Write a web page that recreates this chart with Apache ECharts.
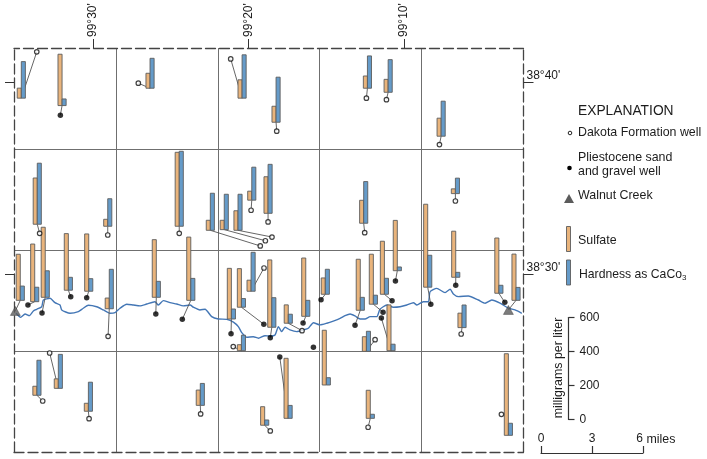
<!DOCTYPE html>
<html>
<head>
<meta charset="utf-8">
<title>Sulfate and hardness in wells along Walnut Creek</title>
<style>
html, body { margin: 0; padding: 0; background: #fff; }
#main { width: 707px; height: 459px; }
</style>
<script src="https://cdn.jsdelivr.net/npm/echarts@6/dist/echarts.min.js"></script>
</head>
<body>
<div id="main"></div>
<script>
"use strict";
// map position in miles from the south-west corner, values in mg/L
var wellType = ['D','P','D','D','D','D','D','D','D','D','T','P','P','P','P','D','P','D','D','D','D','D','D','P','P','P','D','P','D','P','P','D','P','P','D','D','P','P','P','P','P','P','P','T','D','D','P','D','D','D','D','D','D','D'];
var barEast = [0.43,2.83,8.01,13.43,15.43,20.81,22.03,25.15,1.37,5.52,0.37,1.22,1.84,3.20,4.40,5.61,8.38,9.73,11.56,12.38,13.19,14.00,14.96,10.41,12.80,13.39,13.96,15.18,16.15,17.18,18.33,13.39,18.39,16.14,20.59,25.99,20.39,21.16,21.81,22.57,24.36,26.01,28.55,29.56,26.38,20.75,22.20,1.35,2.61,4.38,10.97,14.76,20.98,29.11];
var barNorth = [21.02,20.58,21.61,21.02,19.59,21.61,21.37,18.76,13.53,13.41,9.01,8.93,9.19,9.61,9.55,8.51,9.19,13.41,13.17,13.21,13.17,14.96,14.18,9.01,7.90,8.60,9.55,7.41,7.65,8.06,9.37,6.02,3.98,2.00,13.59,15.35,8.42,8.78,9.37,10.77,9.79,10.38,9.43,9.01,7.39,5.98,6.02,3.37,3.78,2.42,2.77,1.59,2.00,0.99];
var wellEast = [1.34,2.73,7.32,12.76,15.47,20.75,21.93,25.05,1.51,5.52,0.08,0.82,1.65,3.34,4.28,5.54,8.35,9.73,14.50,14.80,15.19,13.96,14.96,9.91,12.78,14.71,14.72,15.09,16.96,17.02,18.08,12.91,17.63,15.65,20.65,25.99,20.08,21.73,22.26,22.46,24.54,26.01,28.90,29.11,26.33,21.26,21.63,1.69,2.10,4.42,10.99,15.09,20.85,28.70];
var wellNorth = [23.77,20.01,21.91,23.35,19.06,21.02,20.93,18.26,12.99,12.89,8.38,8.73,8.26,9.23,9.17,6.87,8.20,12.99,12.24,12.55,12.77,14.36,13.67,7.88,7.03,7.59,10.93,6.79,7.21,7.66,9.05,6.26,6.22,5.64,13.03,14.91,7.53,8.30,8.99,10.16,8.78,9.90,8.89,8.44,7.01,6.67,7.96,3.03,5.88,1.98,2.26,1.25,1.47,2.24];
var sulfate = [59,302,88,108,94,72,76,106,272,41,271,339,412,333,337,63,339,435,59,55,115,53,215,372,298,227,65,396,108,343,96,35,322,353,135,28,300,294,312,296,488,271,325,272,85,86,269,53,56,47,90,109,165,480];
var hardness = [215,39,176,255,265,190,192,206,359,162,84,85,156,76,74,232,94,441,218,208,212,194,288,129,59,51,229,174,53,94,147,91,43,76,245,91,76,53,94,22,188,29,47,76,133,118,38,206,200,171,129,31,24,71];
// wells shown beside their bar, without a leader line
var noLeader = [32, 53];

var riverEast = [0.12,0.39,0.65,0.90,1.14,1.34,1.63,1.73,2.12,2.41,2.71,2.81,3.30,3.79,4.08,4.38,4.87,5.26,5.65,5.95,6.24,6.64,7.03,7.42,7.81,8.30,8.50,8.79,9.19,9.58,9.97,10.37,10.56,10.95,11.25,11.64,12.03,12.53,12.92,13.21,13.41,13.70,14.09,14.39,14.78,15.08,15.37,15.57,15.76,15.96,16.25,16.65,17.04,17.33,17.63,18.02,18.42,18.80,19.20,19.49,19.79,20.08,20.38,20.67,20.97,21.36,21.55,21.95,22.34,22.73,23.13,23.52,23.72,24.10,24.40,24.50,24.89,25.38,25.68,25.87,26.17,26.75,27.34,27.74,28.13,28.62,29.11,29.50,29.90];
var riverNorth = [8.24,8.00,8.20,8.10,8.38,8.48,8.63,9.03,9.13,8.87,8.73,8.44,8.24,8.34,8.54,8.72,8.63,8.44,8.24,8.28,8.54,8.78,8.73,8.68,8.79,8.93,8.73,8.99,8.87,8.79,8.68,8.73,8.60,8.44,8.48,8.04,7.90,7.88,7.72,7.45,7.09,6.82,6.85,6.76,6.91,6.89,6.95,7.45,7.15,7.41,7.25,7.15,7.25,7.35,7.68,7.55,7.65,7.78,7.94,8.10,8.20,8.08,7.90,7.90,8.04,8.04,8.48,8.73,8.60,8.63,8.73,8.87,8.73,8.93,8.93,9.52,9.72,9.47,9.67,9.39,9.23,9.27,9.03,8.84,9.03,8.84,8.54,8.44,8.24];

var lonTicks = [30, 20, 10];   // minutes past 99 degrees
var latTicks = [30, 40];       // minutes past 38 degrees
var concTicks = [0, 200, 400, 600];

var mgPerMile = 99;  // bar height scale on the map
var barWidth = 0.24; // miles

var TEXT = '#1c1c1c';
var FONT = '"Liberation Sans", Arial, sans-serif';
var FRAME = { show: true, onZero: false, lineStyle: { color: '#444', width: 1.3, type: [10, 4] } };
var HIDDEN = { axisLine: { show: false }, axisTick: { show: false }, axisLabel: { show: false }, splitLine: { show: false } };

function rows(type) {
    var out = [];
    for (var i = 0; i < wellType.length; i++) {
        if (wellType[i] == type) out.push([wellEast[i], wellNorth[i]]);
    }
    return out;
}

function zip(a, b) {
    return a.map(function (v, i) { return [v, b[i]]; });
}

function barSeries(name, values, side, color) {
    return {
        name: name,
        type: 'custom',
        xAxisIndex: 0,
        yAxisIndex: 0,
        clip: false,
        z: 4,
        data: values.map(function (v, i) { return [barEast[i], barNorth[i], v]; }),
        renderItem: function (params, api) {
            var e = api.value(0), n = api.value(1);
            var a = api.coord([side < 0 ? e - barWidth : e, n + api.value(2) / mgPerMile]);
            var b = api.coord([side < 0 ? e : e + barWidth, n]);
            return {
                type: 'rect',
                shape: { x: a[0], y: a[1], width: b[0] - a[0], height: b[1] - a[1] },
                style: { fill: color, stroke: '#5c5c5c', lineWidth: 0.9 }
            };
        }
    };
}

function legendText(x, y, text) {
    return { type: 'text', x: x, y: y, style: { text: text, fill: TEXT, font: '12.4px ' + FONT, verticalAlign: 'middle', lineHeight: 14 } };
}

var chart = echarts.init(document.getElementById('main'), null, { renderer: 'canvas' });

chart.setOption({
    animation: false,
    backgroundColor: '#fff',
    textStyle: { fontFamily: FONT, color: TEXT },
    grid: [
        { left: 14, top: 48, width: 509.5, height: 404 },
        { left: 567.5, top: 317.5, width: 1, height: 102 },
        { left: 541, top: 453, width: 102, height: 1 }
    ],
    xAxis: [
        {
            type: 'value', gridIndex: 0, position: 'bottom', min: 0, max: 30, interval: 6,
            axisLine: FRAME, axisTick: { show: false }, axisLabel: { show: false },
            splitLine: { show: true, showMinLine: false, showMaxLine: false, lineStyle: { color: '#6f6f6f', width: 1 } }
        },
        {
            type: 'value', gridIndex: 0, position: 'top', inverse: true, min: 2.32, max: 35.08,
            axisLine: FRAME,
            axisTick: { show: true, customValues: lonTicks, length: 9, lineStyle: { color: '#333' } },
            axisLabel: {
                show: true, customValues: lonTicks, rotate: -90, margin: 11, fontSize: 12, color: TEXT,
                formatter: function (v) { return "99\u00b0" + v + "'"; }
            },
            splitLine: { show: false }
        },
        Object.assign({ type: 'value', gridIndex: 1, min: 0, max: 1 }, HIDDEN),
        {
            type: 'value', gridIndex: 2, position: 'top', min: 0, max: 6, interval: 3,
            axisLine: { onZero: false, lineStyle: { color: '#333', width: 1.2 } },
            axisTick: { length: 7, lineStyle: { color: '#333', width: 1.2 } },
            axisLabel: {
                margin: 8, fontSize: 12, color: TEXT,
                formatter: function (v) { return v == 6 ? '{end|6}' : '' + v; },
                rich: { end: { fontSize: 12, color: TEXT, padding: [0, 7, 0, 0] } }
            },
            splitLine: { show: false }
        }
    ],
    yAxis: [
        {
            type: 'value', gridIndex: 0, min: 0, max: 24, interval: 6,
            axisLine: { show: false }, axisTick: { show: false }, axisLabel: { show: false },
            splitLine: { show: true, showMinLine: false, showMaxLine: false, lineStyle: { color: '#6f6f6f', width: 1 } }
        },
        {
            type: 'value', gridIndex: 0, position: 'right', min: 20.73, max: 41.77,
            axisLine: FRAME,
            axisTick: { show: true, customValues: latTicks, length: 10, lineStyle: { color: '#333' } },
            axisLabel: {
                show: true, customValues: latTicks, margin: 3, fontSize: 12, color: TEXT, verticalAlign: 'bottom',
                formatter: function (v) { return "38\u00b0" + v + "'"; }
            },
            splitLine: { show: false }
        },
        {
            type: 'value', gridIndex: 0, position: 'left', min: 20.73, max: 41.77,
            axisLine: FRAME,
            axisTick: { show: true, customValues: latTicks, length: 9, lineStyle: { color: '#333' } },
            axisLabel: { show: false },
            splitLine: { show: false }
        },
        {
            type: 'value', gridIndex: 1, position: 'right', min: 0, max: 600,
            axisLine: { onZero: false, lineStyle: { color: '#333', width: 1.2 } },
            axisTick: { show: true, customValues: concTicks, length: 6, lineStyle: { color: '#333', width: 1.2 } },
            axisLabel: { show: true, customValues: concTicks, margin: 11, fontSize: 12, color: TEXT },
            splitLine: { show: false }
        },
        Object.assign({ type: 'value', gridIndex: 2, min: 0, max: 1 }, HIDDEN)
    ],
    series: [
        {
            name: 'Walnut Creek river', type: 'line', xAxisIndex: 0, yAxisIndex: 0, z: 2,
            showSymbol: false, smooth: 0.2, data: zip(riverEast, riverNorth),
            lineStyle: { color: '#4376b5', width: 1.4 }
        },
        {
            name: 'Leaders', type: 'custom', xAxisIndex: 0, yAxisIndex: 0, clip: false, z: 3,
            data: barEast.map(function (e, i) { return [e, barNorth[i], wellEast[i], wellNorth[i], i]; }),
            renderItem: function (params, api) {
                if (noLeader.indexOf(api.value(4)) >= 0) return null;
                var a = api.coord([api.value(0), api.value(1)]);
                var b = api.coord([api.value(2), api.value(3)]);
                return {
                    type: 'line',
                    shape: { x1: a[0], y1: a[1], x2: b[0], y2: b[1] },
                    style: { stroke: '#555', lineWidth: 0.9 }
                };
            }
        },
        barSeries('Sulfate', sulfate, -1, '#e9b47c'),
        barSeries('Hardness as CaCo3', hardness, 1, '#659bc9'),
        {
            name: 'Dakota Formation well', type: 'scatter', xAxisIndex: 0, yAxisIndex: 0, z: 5,
            symbolSize: 4.5, data: rows('D'),
            itemStyle: { color: '#fff', borderColor: '#111', borderWidth: 1.2 }
        },
        {
            name: 'Pliestocene sand and gravel well', type: 'scatter', xAxisIndex: 0, yAxisIndex: 0, z: 5,
            symbolSize: 5.5, data: rows('P'),
            itemStyle: { color: '#000' }
        },
        {
            name: 'Walnut Creek', type: 'scatter', xAxisIndex: 0, yAxisIndex: 0, z: 5,
            symbol: 'triangle', symbolSize: [10, 9], data: rows('T'),
            itemStyle: { color: '#5b5b5b', borderColor: '#333', borderWidth: 0.5 }
        }
    ],
    graphic: [
        { type: 'text', x: 578, y: 111, style: { text: 'EXPLANATION', fill: TEXT, font: '13.8px ' + FONT, verticalAlign: 'middle' } },
        { type: 'circle', shape: { cx: 570, cy: 133, r: 1.8 }, style: { fill: '#fff', stroke: '#222', lineWidth: 1 } },
        legendText(578, 133, 'Dakota Formation well'),
        { type: 'circle', shape: { cx: 569.5, cy: 168, r: 2.3 }, style: { fill: '#000' } },
        legendText(578, 165, 'Pliestocene sand\nand gravel well'),
        { type: 'polygon', shape: { points: [[569, 194], [564, 203], [574, 203]] }, style: { fill: '#5b5b5b' } },
        legendText(578, 196, 'Walnut Creek'),
        { type: 'rect', shape: { x: 566.5, y: 226.5, width: 4, height: 25 }, style: { fill: '#e9b47c', stroke: '#5c5c5c', lineWidth: 0.9 } },
        legendText(578, 241, 'Sulfate'),
        { type: 'rect', shape: { x: 566.5, y: 260, width: 4, height: 25 }, style: { fill: '#659bc9', stroke: '#5c5c5c', lineWidth: 0.9 } },
        {
            type: 'text', x: 579, y: 275,
            style: {
                text: '{a|Hardness as CaCo}{s|3}',
                verticalAlign: 'middle',
                rich: {
                    a: { font: '12.2px ' + FONT, fill: TEXT },
                    s: { font: '8px ' + FONT, fill: TEXT, padding: [5, 0, 0, 0] }
                }
            }
        },
        { type: 'text', x: 559, y: 368, rotation: Math.PI / 2, style: { text: 'milligrams per liter', fill: TEXT, font: '12.4px ' + FONT, align: 'center', verticalAlign: 'middle' } },
        legendText(646.5, 440, 'miles')
    ]
});
</script>
</body>
</html>
